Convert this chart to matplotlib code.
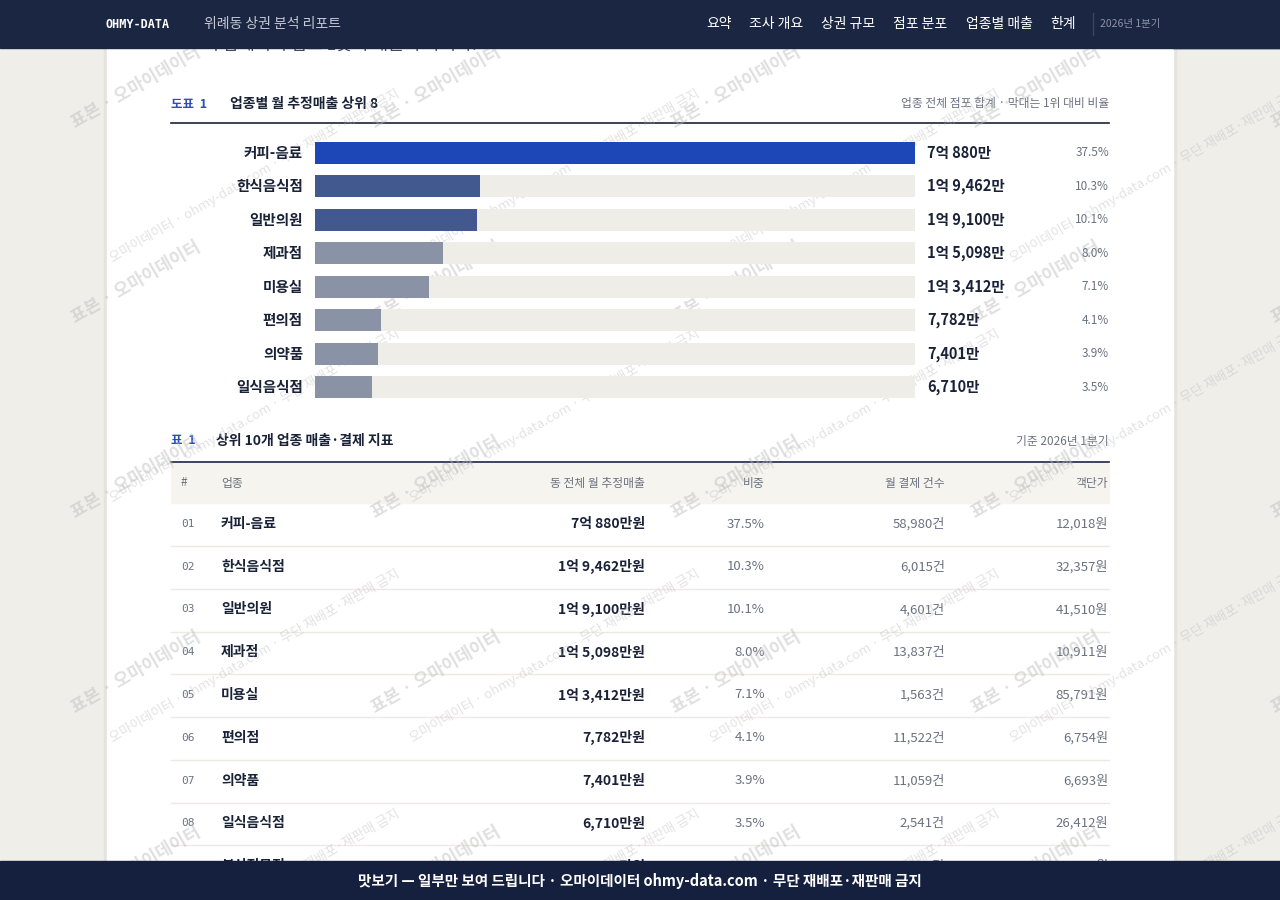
import matplotlib
matplotlib.use("Agg")
import matplotlib.pyplot as plt
from matplotlib.patches import Rectangle

plt.rcParams['font.family'] = ['Noto Sans CJK KR', 'DejaVu Sans']

# ---- data ----
categories = ['커피-음료', '한식음식점', '일반의원', '제과점', '미용실', '편의점', '의약품', '일식음식점']
sales_man = [70880, 19462, 19100, 15098, 13412, 7782, 7401, 6710]   # 만원
share_pct = [37.5, 10.3, 10.1, 8.0, 7.1, 4.1, 3.9, 3.5]
pay_count = [58980, 6015, 4601, 13837, 1563, 11522, 11059, 2541]
unit_price = [12018, 32357, 41510, 10911, 85791, 6754, 6693, 26412]
bar_colors = ['#1d47b6', '#42598f', '#42598f', '#8a92a5', '#8a92a5', '#8a92a5', '#8a92a5', '#8a92a5']

# row 9 is almost hidden under the footer, values estimated
row9 = ['분식전문점', 6102, 3.2, 9870, 6182]

nav_items = ['요약', '조사 개요', '상권 규모', '점포 분포', '업종별 매출', '한계']
nav_x = [706, 749, 821, 893, 966, 1050]

table_cols = ['#', '업종', '동 전체 월 추정매출', '비중', '월 결제 건수', '객단가']

NAVY = '#1b2642'
DARK = '#1a2238'
GREY = '#6b7180'
BLUE = '#2b4fb8'


def fmt_won(v):
    eok, rest = divmod(v, 10000)
    if eok:
        return f"{eok}억 {rest:,}만"
    return f"{rest:,}만"


fig = plt.figure(figsize=(12.8, 9), dpi=100)
ax = fig.add_axes([0, 0, 1, 1])
ax.set_xlim(0, 1280)
ax.set_ylim(900, 0)
ax.axis('off')

# page + card
ax.add_patch(Rectangle((0, 0), 1280, 900, color='#efeee9', zorder=0))
ax.add_patch(Rectangle((104, 0), 1072, 900, color='#e4e3de', zorder=0.5))
ax.add_patch(Rectangle((107, 0), 1066, 900, color='white', zorder=1))

# partial sentence hidden under nav
ax.text(203, 45, '의 합계이며 점포 1곳의 매출이 아니다.', fontsize=12.5, color='#444a58',
        va='center', ha='left', zorder=2)

# nav bar
ax.add_patch(Rectangle((0, 0), 1280, 48, color=NAVY, zorder=20))
ax.text(105, 24, 'OHMY-DATA', family='DejaVu Sans Mono', fontweight='bold', fontsize=8.5,
        color='white', va='center', zorder=21)
ax.text(204, 24, '위례동 상권 분석 리포트', fontsize=10, color='#c4c9d6', va='center', zorder=21)
for name, x in zip(nav_items, nav_x):
    ax.text(x, 24, name, fontsize=10, color='white', ha='left', va='center', zorder=21)
ax.plot([1093, 1093], [13, 35], color='#3b4663', lw=1, zorder=21)
ax.text(1100, 24, '2026년 1분기', fontsize=7.5, color='#8d94a8', va='center', zorder=21)
ax.add_patch(Rectangle((1173, 0), 107, 48, color=NAVY, zorder=22))

# chart header
ax.text(171, 104, '도표  1', fontsize=9, fontweight='bold', color=BLUE, va='center', zorder=3)
ax.text(230, 104, '업종별 월 추정매출 상위 8', fontsize=10, fontweight='bold', color=DARK,
        va='center', zorder=3)
ax.text(1109, 104, '업종 전체 점포 합계 · 막대는 1위 대비 비율', fontsize=8.5, color=GREY,
        ha='right', va='center', zorder=3)
ax.plot([171, 1109], [123, 123], color=DARK, lw=1.2, zorder=3)

# bar chart axes
row_h = 33.45
top = 153 - row_h / 2
bax = fig.add_axes([315 / 1280, 1 - (top + 8 * row_h) / 900, 600 / 1280, 8 * row_h / 900])
bax.set_zorder(2)
bax.patch.set_alpha(0)
ypos = list(range(len(categories)))
bax.barh(ypos, [max(sales_man)] * len(categories), height=0.66, color='#efede7')
bax.barh(ypos, sales_man, height=0.66, color=bar_colors)
bax.set_xlim(0, max(sales_man))
bax.set_ylim(len(categories) - 0.5, -0.5)
bax.axis('off')
tr = bax.get_yaxis_transform()
for i, (c, v, p) in enumerate(zip(categories, sales_man, share_pct)):
    bax.text(-0.02, i, c, transform=tr, ha='right', va='center', fontsize=10.5,
             fontweight='bold', color=DARK, clip_on=False)
    bax.text(1.02, i, fmt_won(v), transform=tr, ha='left', va='center', fontsize=10.5,
             fontweight='bold', color=DARK, clip_on=False)
    bax.text(1.3233, i, f"{p:.1f}%", transform=tr, ha='right', va='center', fontsize=8.5,
             color=GREY, clip_on=False)

# table header
ax.text(171, 441, '표  1', fontsize=9, fontweight='bold', color=BLUE, va='center', zorder=3)
ax.text(216, 441, '상위 10개 업종 매출·결제 지표', fontsize=10, fontweight='bold', color=DARK,
        va='center', zorder=3)
ax.text(1109, 441, '기준 2026년 1분기', fontsize=8.5, color=GREY, ha='right', va='center', zorder=3)
ax.plot([171, 1109], [462, 462], color=NAVY, lw=1.2, zorder=3)
ax.add_patch(Rectangle((171, 463), 938, 40, color='#f5f4ef', zorder=2))
col_x = [181, 221, 645, 765, 945, 1108]
col_ha = ['left', 'left', 'right', 'right', 'right', 'right']
for name, x, ha in zip(table_cols, col_x, col_ha):
    ax.text(x, 483, name, fontsize=8.5, color=GREY, ha=ha, va='center', zorder=3)

rows = [[c, v, p, n, u] for c, v, p, n, u in zip(categories, sales_man, share_pct, pay_count, unit_price)]
rows.append(row9)
rh = 42.75
for k, (c, v, p, n, u) in enumerate(rows):
    yc = 524 + k * rh
    ax.text(181, yc, f"{k + 1:02d}", family='DejaVu Sans Mono', fontsize=8, color=GREY,
            va='center', zorder=3)
    ax.text(221, yc, c, fontsize=10, fontweight='bold', color=DARK, va='center', zorder=3)
    ax.text(645, yc, fmt_won(v) + '원', fontsize=10, fontweight='bold', color=DARK,
            ha='right', va='center', zorder=3)
    ax.text(765, yc, f"{p:.1f}%", fontsize=9.5, color=GREY, ha='right', va='center', zorder=3)
    ax.text(945, yc, f"{n:,}건", fontsize=9.5, color=GREY, ha='right', va='center', zorder=3)
    ax.text(1108, yc, f"{u:,}원", fontsize=9.5, color=GREY, ha='right', va='center', zorder=3)
    ax.plot([171, 1109], [yc + 22, yc + 22], color='#eceae5', lw=1, zorder=2.5)

# watermarks
for i in range(5):
    for j in range(5):
        ax.text(75 + 300 * i, 128 + 195 * j, '표본 · 오마이데이터', fontsize=12.5,
                fontweight='bold', color='#b9b9b9', alpha=0.45, rotation=30,
                rotation_mode='anchor', ha='left', va='baseline', zorder=10)
    for j in range(4):
        ax.text(112 + 300 * i, 262 + 240 * j, '오마이데이터 · ohmy-data.com · 무단 재배포·재판매 금지',
                fontsize=9.5, color='#b9b9b9', alpha=0.4, rotation=30,
                rotation_mode='anchor', ha='left', va='baseline', zorder=10)

# footer
ax.add_patch(Rectangle((0, 861), 1280, 39, color='#14203e', zorder=20))
ax.text(640, 881, '맛보기 — 일부만 보여 드립니다 · 오마이데이터 ohmy-data.com · 무단 재배포·재판매 금지',
        fontsize=10.5, fontweight='bold', color='white', ha='center', va='center', zorder=21)

fig.savefig('out.png', dpi=100)
